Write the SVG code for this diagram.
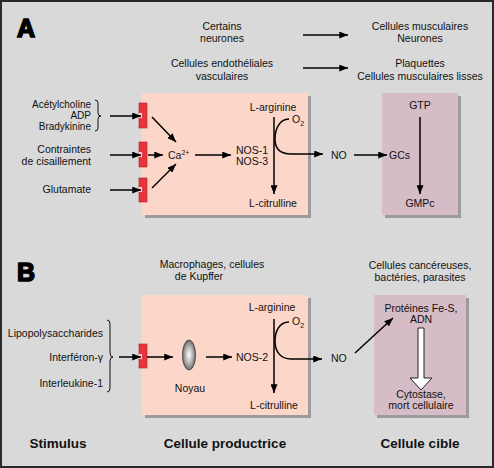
<svg xmlns="http://www.w3.org/2000/svg" width="494" height="468" viewBox="0 0 494 468">
<style>
.t{font-family:"Liberation Sans",Arial,sans-serif;font-size:10.5px;fill:#111}
.s{font-size:10px}
.m{text-anchor:middle}
.e{text-anchor:end}
.big{font-family:"Liberation Sans",Arial,sans-serif;font-size:25px;font-weight:bold;fill:#000;stroke:#000;stroke-width:1.6}
.lab{font-family:"Liberation Sans",Arial,sans-serif;font-size:13.5px;font-weight:bold;fill:#111;text-anchor:middle}
.ln{stroke:#000;stroke-width:1.5;fill:none}
.sh{fill:#9c9c9c}
.pink{fill:#fcd7c9}
.mauve{fill:#d6bcc6}
.rec{fill:#e8343d;stroke:#b51d25;stroke-width:0.6}
.notch{fill:#f3d3d3}
.br{stroke:#111;stroke-width:1;fill:none}
</style>
<defs>
<marker id="ah" viewBox="0 0 10 8" markerWidth="9" markerHeight="7" refX="10" refY="4" orient="auto" markerUnits="userSpaceOnUse">
<path d="M0,0 L10,4 L0,8 z" fill="#000"/>
</marker>
<radialGradient id="nuc" cx="0.5" cy="0.5" r="0.6">
<stop offset="0" stop-color="#ffffff"/>
<stop offset="0.5" stop-color="#b0b0b0"/>
<stop offset="1" stop-color="#4a4a4a"/>
</radialGradient>
</defs>
<rect x="1" y="1" width="492" height="466" fill="#d9d9d9" stroke="#2a2a2a" stroke-width="2"/>

<g id="panelA">
<text class="big" x="17" y="37">A</text>
<g id="boxA-prod"><rect class="sh" x="145" y="96" width="166" height="122"/><rect class="pink" x="142" y="93" width="166" height="122"/></g>
<g id="boxA-target"><rect class="sh" x="385" y="96" width="76" height="122"/><rect class="mauve" x="382" y="93" width="76" height="122"/></g>
<g id="topA">
<text class="t m" x="222" y="30">Certains</text>
<text class="t m" x="222" y="42">neurones</text>
<text class="t m" x="420" y="30">Cellules musculaires</text>
<text class="t m" x="420" y="42">Neurones</text>
<text class="t m" x="222" y="67">Cellules endothéliales</text>
<text class="t m" x="222" y="80">vasculaires</text>
<text class="t m" x="420" y="67">Plaquettes</text>
<text class="t m" x="420" y="80">Cellules musculaires lisses</text>
</g>
<g id="stimA">
<text class="t e s" x="91" y="108">Acétylcholine</text>
<text class="t e s" x="91" y="119">ADP</text>
<text class="t e s" x="91" y="130">Bradykinine</text>
<path class="br" d="M95,100 Q98,100 98,103 L98,113 Q98,116 101,116 Q98,116 98,119 L98,128 Q98,131 95,131"/>
<text class="t e" x="91" y="153">Contraintes</text>
<text class="t e" x="91" y="165">de cisaillement</text>
<text class="t e" x="91" y="193">Glutamate</text>
</g>
<g id="receptorsA">
<rect class="rec" x="139" y="103" width="8" height="25"/><rect class="notch" x="139" y="113" width="3" height="5"/>
<rect class="rec" x="139" y="142" width="8" height="25"/><rect class="notch" x="139" y="152" width="3" height="5"/>
<rect class="rec" x="139" y="178" width="8" height="24"/><rect class="notch" x="139" y="187" width="3" height="5"/>
</g>
<g id="textA">
<text class="t" x="168" y="159">Ca<tspan font-size="7" dy="-4">2+</tspan></text>
<text class="t" x="236" y="154">NOS-1</text>
<text class="t" x="236" y="165">NOS-3</text>
<text class="t m" x="273" y="111">L-arginine</text>
<text class="t m" x="273" y="207">L-citrulline</text>
<text class="t" x="292" y="123">O<tspan font-size="7" dy="3">2</tspan></text>
<text class="t" x="331" y="159">NO</text>
<text class="t" x="389" y="159">GCs</text>
<text class="t m" x="420" y="109">GTP</text>
<text class="t m" x="420" y="207">GMPc</text>
</g>
</g>

<g id="panelB">
<text class="big" x="17" y="281">B</text>
<g id="boxB-prod"><rect class="sh" x="145" y="298" width="166" height="120"/><rect class="pink" x="142" y="295" width="166" height="120"/></g>
<g id="boxB-target"><rect class="sh" x="377" y="298" width="92" height="120"/><rect class="mauve" x="374" y="295" width="92" height="120"/></g>
<g id="topB">
<text class="t m" x="212" y="268">Macrophages, cellules</text>
<text class="t m" x="199" y="280">de Kupffer</text>
<text class="t m" x="420" y="269">Cellules cancéreuses,</text>
<text class="t m" x="420" y="281">bactéries, parasites</text>
</g>
<g id="stimB">
<text class="t e" x="103" y="337">Lipopolysaccharides</text>
<text class="t e" x="103" y="361">Interféron-γ</text>
<text class="t e" x="103" y="387">Interleukine-1</text>
<path class="br" d="M107,320 Q110,320 110,324 L110,353 Q110,357 113,357 Q110,357 110,361 L110,388 Q110,392 107,392"/>
</g>
<g id="receptorB">
<rect class="rec" x="139" y="344" width="8" height="24"/><rect class="notch" x="139" y="354" width="3" height="5"/>
</g>
<g id="nucleus">
<ellipse cx="189" cy="355" rx="6.5" ry="15" fill="url(#nuc)" stroke="#333" stroke-width="0.8"/>
<text class="t m" x="190" y="392">Noyau</text>
</g>
<g id="textB">
<text class="t" x="236" y="361">NOS-2</text>
<text class="t m" x="272" y="311">L-arginine</text>
<text class="t m" x="274" y="409">L-citrulline</text>
<text class="t" x="292" y="325">O<tspan font-size="7" dy="3">2</tspan></text>
<text class="t" x="331" y="362">NO</text>
<text class="t m" x="421" y="312">Protéines Fe-S,</text>
<text class="t m" x="421" y="323">ADN</text>
<text class="t m" x="421" y="398">Cytostase,</text>
<text class="t m" x="421" y="409">mort cellulaire</text>
</g>
</g>

<g id="connectors">
<line class="ln" x1="303" y1="35" x2="348" y2="35" marker-end="url(#ah)"/>
<line class="ln" x1="303" y1="68" x2="348" y2="68" marker-end="url(#ah)"/>
<line class="ln" x1="110" y1="116" x2="141" y2="116" marker-end="url(#ah)"/>
<line class="ln" x1="110" y1="155" x2="141" y2="155" marker-end="url(#ah)"/>
<line class="ln" x1="110" y1="190" x2="141" y2="190" marker-end="url(#ah)"/>
<line class="ln" x1="148" y1="155" x2="163" y2="155" marker-end="url(#ah)"/>
<line class="ln" x1="152" y1="117" x2="176" y2="142" marker-end="url(#ah)"/>
<line class="ln" x1="152" y1="188" x2="176" y2="164" marker-end="url(#ah)"/>
<line class="ln" x1="195" y1="155" x2="231" y2="155" marker-end="url(#ah)"/>
<line class="ln" x1="274" y1="117" x2="274" y2="194" marker-end="url(#ah)"/>
<path class="ln" d="M289,119 C279,119 275,130 275,139 C275,149 281,154 291,154 L323,154" marker-end="url(#ah)"/>
<line class="ln" x1="354" y1="155" x2="387" y2="155" marker-end="url(#ah)"/>
<line class="ln" x1="420" y1="117" x2="420" y2="194" marker-end="url(#ah)"/>

<line class="ln" x1="119" y1="357" x2="141" y2="357" marker-end="url(#ah)"/>
<line class="ln" x1="147" y1="357" x2="173" y2="357" marker-end="url(#ah)"/>
<line class="ln" x1="206" y1="357" x2="232" y2="357" marker-end="url(#ah)"/>
<line class="ln" x1="274" y1="319" x2="274" y2="393" marker-end="url(#ah)"/>
<path class="ln" d="M289,322 C279,322 275,332 275,341 C275,352 281,359 291,359 L322,359" marker-end="url(#ah)"/>
<line class="ln" x1="355" y1="353" x2="393" y2="318" marker-end="url(#ah)"/>
<polygon points="418,328 424,328 424,378 432,378 421,390 410,378 418,378" fill="#fff" stroke="#222" stroke-width="1"/>
</g>

<g id="footer">
<text class="lab" x="58" y="448">Stimulus</text>
<text class="lab" x="225" y="448">Cellule productrice</text>
<text class="lab" x="420" y="448">Cellule cible</text>
</g>
</svg>
